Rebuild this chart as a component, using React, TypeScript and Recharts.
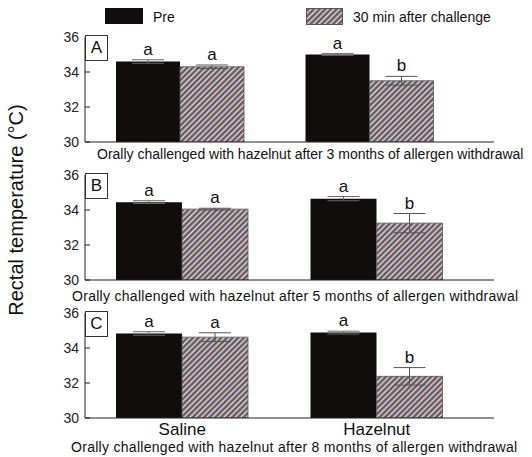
import { BarChart, Bar, XAxis, YAxis, ErrorBar } from "recharts"

// groups on the x axis
const groups = ["Saline", "Hazelnut"]
const yTicks = [30, 32, 34, 36]

// panel A: 3 months of allergen withdrawal
const preA = [34.6, 35.0]
const preErrA = [0.1, 0.05]
const postA = [34.3, 33.5]
const postErrA = [0.1, 0.25]
const preSigA = ["a", "a"]
const postSigA = ["a", "b"]

// panel B: 5 months
const preB = [34.45, 34.65]
const preErrB = [0.08, 0.12]
const postB = [34.05, 33.25]
const postErrB = [0.05, 0.55]
const preSigB = ["a", "a"]
const postSigB = ["a", "b"]

// panel C: 8 months
const preC = [34.83, 34.88]
const preErrC = [0.1, 0.08]
const postC = [34.62, 32.38]
const postErrC = [0.25, 0.5]
const preSigC = ["a", "a"]
const postSigC = ["a", "b"]

const FONT = "'Liberation Sans', Arial, sans-serif"
const AXIS = "#222"

const buildRows = (pre: number[], preErr: number[], post: number[], postErr: number[]) =>
  groups.map((g, i) => ({ group: g, pre: pre[i], preErr: preErr[i], post: post[i], postErr: postErr[i] }))

const Hatch = ({ id }: { id: string }) => (
  <pattern id={id} patternUnits="userSpaceOnUse" width="4" height="4" patternTransform="rotate(45)">
    <rect x="0" y="0" width="4" height="4" fill="#e8e6e2" />
    <rect x="1" y="0" width="1" height="4" fill="#3f9a3c" />
    <rect x="2" y="0" width="1" height="4" fill="#5450b8" />
    <rect x="3" y="0" width="1" height="4" fill="#d0505e" />
  </pattern>
)

const letter = (values: number[], errs: number[], sig: string[]) => (props: any) => {
  const { x, y, width, height, index } = props
  const ppu = height / (values[index] - 30)
  const top = y - errs[index] * ppu
  return (
    <text x={x + width / 2} y={top - 5} textAnchor="middle" fontSize={17} fontFamily={FONT} fill="#111">
      {sig[index]}
    </text>
  )
}

const YTick = (props: any) => {
  const { x, y, payload } = props
  return (
    <g>
      <line x1={x + 6} y1={y} x2={x + 11} y2={y} stroke={AXIS} />
      <text x={x} y={y} dy={5} textAnchor="end" fontSize={14} fontFamily={FONT} fill="#222">
        {payload.value}
      </text>
    </g>
  )
}

interface PanelProps {
  id: string
  top: number
  tag: string
  rows: any[]
  pre: number[]
  preErr: number[]
  post: number[]
  postErr: number[]
  preSig: string[]
  postSig: string[]
  padRight: number
  showGroups: boolean
}

const Panel = (p: PanelProps) => {
  const xH = p.showGroups ? 28 : 4
  return (
    <div style={{ position: "absolute", left: 0, top: p.top - 12, width: 532 }}>
      <BarChart
        width={532}
        height={12 + 105 + xH + 4}
        data={p.rows}
        margin={{ top: 12, right: 38, left: 40, bottom: 4 }}
        barGap={0}
        barCategoryGap={31}
      >
        <defs>
          <Hatch id={p.id} />
        </defs>
        <XAxis
          dataKey="group"
          height={xH}
          padding={{ left: 0, right: p.padRight }}
          axisLine={{ stroke: AXIS }}
          tickLine={false}
          tick={p.showGroups ? { fontSize: 17, fill: "#111", fontFamily: FONT, dy: -3 } : false}
        />
        <YAxis
          width={45}
          domain={[30, 36]}
          ticks={yTicks}
          interval={0}
          allowDataOverflow
          tickSize={0}
          tickMargin={6}
          tickLine={false}
          axisLine={{ stroke: AXIS }}
          tick={<YTick />}
        />
        <Bar dataKey="pre" fill="#120d0d" isAnimationActive={false} label={letter(p.pre, p.preErr, p.preSig)}>
          <ErrorBar dataKey="preErr" width={16} stroke="#666" strokeWidth={1} direction="y" />
        </Bar>
        <Bar
          dataKey="post"
          fill={`url(#${p.id})`}
          stroke="#555"
          strokeWidth={0.8}
          isAnimationActive={false}
          label={letter(p.post, p.postErr, p.postSig)}
        >
          <ErrorBar dataKey="postErr" width={16} stroke="#555" strokeWidth={1} direction="y" />
        </Bar>
      </BarChart>
      <div
        style={{
          position: "absolute",
          left: 85,
          top: 10,
          width: 21,
          height: 24,
          border: "1px solid #333",
          background: "#fff",
          fontFamily: FONT,
          fontSize: 17,
          lineHeight: "24px",
          textAlign: "center",
          color: "#111",
        }}
      >
        {p.tag}
      </div>
    </div>
  )
}

const subtitle = (text: string, left: number, top: number, spacing: number) => (
  <div
    style={{
      position: "absolute",
      left,
      top,
      fontFamily: FONT,
      fontSize: 14,
      letterSpacing: spacing,
      color: "#111",
      whiteSpace: "nowrap",
    }}
  >
    {text}
  </div>
)

export default function App() {
  return (
    <div style={{ position: "absolute", left: 0, top: 0, width: 532, height: 457, background: "#fff", overflow: "hidden" }}>
      {/* legend */}
      <div style={{ position: "absolute", left: 105, top: 8, width: 38, height: 16, background: "#120d0d" }} />
      <div style={{ position: "absolute", left: 153, top: 9, fontFamily: FONT, fontSize: 14, color: "#111" }}>Pre</div>
      <svg style={{ position: "absolute", left: 306, top: 8 }} width={37} height={17}>
        <defs>
          <Hatch id="legendHatch" />
        </defs>
        <rect x={0.5} y={0.5} width={36} height={16} fill="url(#legendHatch)" stroke="#555" />
      </svg>
      <div style={{ position: "absolute", left: 353, top: 9, fontFamily: FONT, fontSize: 14, color: "#111" }}>
        30 min after challenge
      </div>

      <div
        style={{
          position: "absolute",
          left: 16,
          top: 210,
          transform: "translate(-50%, -50%) rotate(-90deg)",
          fontFamily: FONT,
          fontSize: 20,
          color: "#111",
          whiteSpace: "nowrap",
        }}
      >
        Rectal temperature (°C)
      </div>

      <Panel
        id="hatchA"
        top={37}
        tag="A"
        rows={buildRows(preA, preErrA, postA, postErrA)}
        pre={preA}
        preErr={preErrA}
        post={postA}
        postErr={postErrA}
        preSig={preSigA}
        postSig={postSigA}
        padRight={30}
        showGroups={false}
      />
      {subtitle("Orally challenged with hazelnut after 3 months of allergen withdrawal", 97, 146, 0)}

      <Panel
        id="hatchB"
        top={175}
        tag="B"
        rows={buildRows(preB, preErrB, postB, postErrB)}
        pre={preB}
        preErr={preErrB}
        post={postB}
        postErr={postErrB}
        preSig={preSigB}
        postSig={postSigB}
        padRight={20}
        showGroups={false}
      />
      {subtitle("Orally challenged with hazelnut after 5 months of allergen withdrawal", 72, 288, 0.29)}

      <Panel
        id="hatchC"
        top={313}
        tag="C"
        rows={buildRows(preC, preErrC, postC, postErrC)}
        pre={preC}
        preErr={preErrC}
        post={postC}
        postErr={postErrC}
        preSig={preSigC}
        postSig={postSigC}
        padRight={20}
        showGroups={true}
      />
      {subtitle("Orally challenged with hazelnut after 8 months of allergen withdrawal", 71, 439, 0.29)}
    </div>
  )
}
